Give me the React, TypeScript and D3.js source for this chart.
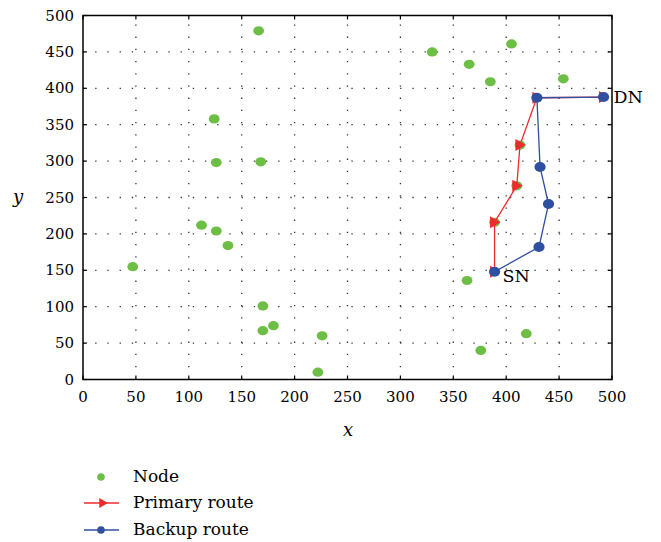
import React from 'react';
import * as d3 from 'd3';

// scattered sensor nodes (x, y)
const nodeX = [166, 330, 405, 365, 385, 454, 124, 126, 168, 112, 126, 137, 47, 170, 180, 170, 226, 222, 376, 419, 363, 413, 410, 389];
const nodeY = [479, 450, 461, 433, 409, 413, 358, 298, 299, 212, 204, 184, 155, 101, 74, 67, 60, 10, 40, 63, 136, 322, 266, 216];

// primary route from SN to DN
const primaryX = [389, 389, 410, 413, 429, 492];
const primaryY = [148, 216, 266, 322, 387, 388];

// backup route from SN to DN
const backupX = [389, 431, 440, 432, 429, 492];
const backupY = [148, 182, 241, 292, 387, 388];

const xTicks = [0, 50, 100, 150, 200, 250, 300, 350, 400, 450, 500];
const yTicks = [0, 50, 100, 150, 200, 250, 300, 350, 400, 450, 500];

const green = '#6dbe45';
const red = '#ee2a2e';
const blue = '#2f4fa0';
const font = "'DejaVu Serif', 'Liberation Serif', serif";

const left = 83,
  right = 612,
  top = 15.5,
  bottom = 379.5;

const Tri = ({ cx, cy, s = 6 }) => (
  <polygon points={`${cx - s * 0.75},${cy - s} ${cx + s},${cy} ${cx - s * 0.75},${cy + s}`} fill={red} />
);

const App = () => {
  const x = d3.scaleLinear().domain([0, 500]).range([left, right]);
  const y = d3.scaleLinear().domain([0, 500]).range([bottom, top]);

  const line = d3.line();
  const primary = primaryX.map((v, i) => [x(v), y(primaryY[i])]);
  const backup = backupX.map((v, i) => [x(v), y(backupY[i])]);

  return (
    <svg
      width={661}
      height={542}
      style={{ position: 'absolute', left: 0, top: 0, background: '#fff', fontFamily: font }}
    >
      {/* dotted grid */}
      {xTicks.slice(1, -1).map((t) => (
        <line key={'gx' + t} x1={x(t)} x2={x(t)} y1={bottom} y2={top} stroke="#333" strokeWidth={1.3} strokeDasharray="1.3,10.9" />
      ))}
      {yTicks.slice(1, -1).map((t) => (
        <line key={'gy' + t} x1={left} x2={right} y1={y(t)} y2={y(t)} stroke="#333" strokeWidth={1.3} strokeDasharray="1.3,10.9" />
      ))}

      {/* inward ticks on all sides */}
      {xTicks.map((t) => (
        <g key={'tx' + t}>
          <line x1={x(t)} x2={x(t)} y1={bottom} y2={bottom - 4} stroke="#000" strokeWidth={1.2} />
          <line x1={x(t)} x2={x(t)} y1={top} y2={top + 4} stroke="#000" strokeWidth={1.2} />
        </g>
      ))}
      {yTicks.map((t) => (
        <g key={'ty' + t}>
          <line x1={left} x2={left + 4} y1={y(t)} y2={y(t)} stroke="#000" strokeWidth={1.2} />
          <line x1={right} x2={right - 4} y1={y(t)} y2={y(t)} stroke="#000" strokeWidth={1.2} />
        </g>
      ))}

      <rect x={left} y={top} width={right - left} height={bottom - top} fill="none" stroke="#000" strokeWidth={1.5} />

      {/* tick labels */}
      {xTicks.map((t) => (
        <text key={'lx' + t} x={x(t)} y={bottom + 22} textAnchor="middle" fontSize={15}>
          {t}
        </text>
      ))}
      {yTicks.map((t) => (
        <text key={'ly' + t} x={left - 9} y={y(t) + 5} textAnchor="end" fontSize={15}>
          {t}
        </text>
      ))}

      <text x={348} y={436} textAnchor="middle" fontSize={18} fontStyle="italic">x</text>
      <text x={18} y={203} textAnchor="middle" fontSize={18} fontStyle="italic">y</text>

      {/* nodes */}
      {nodeX.map((v, i) => (
        <ellipse key={'n' + i} cx={x(v)} cy={y(nodeY[i])} rx={5.4} ry={4.6} fill={green} />
      ))}

      {/* primary route */}
      <path d={line(primary)} fill="none" stroke={red} strokeWidth={1.3} />
      {primary.map((p, i) => (
        <Tri key={'p' + i} cx={p[0]} cy={p[1]} />
      ))}

      {/* backup route */}
      <path d={line(backup)} fill="none" stroke={blue} strokeWidth={1.3} />
      {backup.map((p, i) => (
        <ellipse key={'b' + i} cx={p[0]} cy={p[1]} rx={5.6} ry={5} fill={blue} />
      ))}

      <text x={x(492) + 10} y={y(388) + 6} fontSize={17.5}>DN</text>
      <text x={x(389) + 8} y={y(148) + 10} fontSize={17.5}>SN</text>

      {/* legend */}
      <g fontSize={17}>
        <circle cx={101} cy={477} r={3.8} fill={green} />
        <text x={133} y={482}>Node</text>
        <line x1={84} x2={119} y1={503} y2={503} stroke={red} strokeWidth={1.3} />
        <Tri cx={103} cy={503} s={5} />
        <text x={133} y={508}>Primary route</text>
        <line x1={84} x2={119} y1={530} y2={530} stroke={blue} strokeWidth={1.3} />
        <circle cx={101} cy={530} r={3.8} fill={blue} />
        <text x={133} y={535}>Backup route</text>
      </g>
    </svg>
  );
};

export default App;
